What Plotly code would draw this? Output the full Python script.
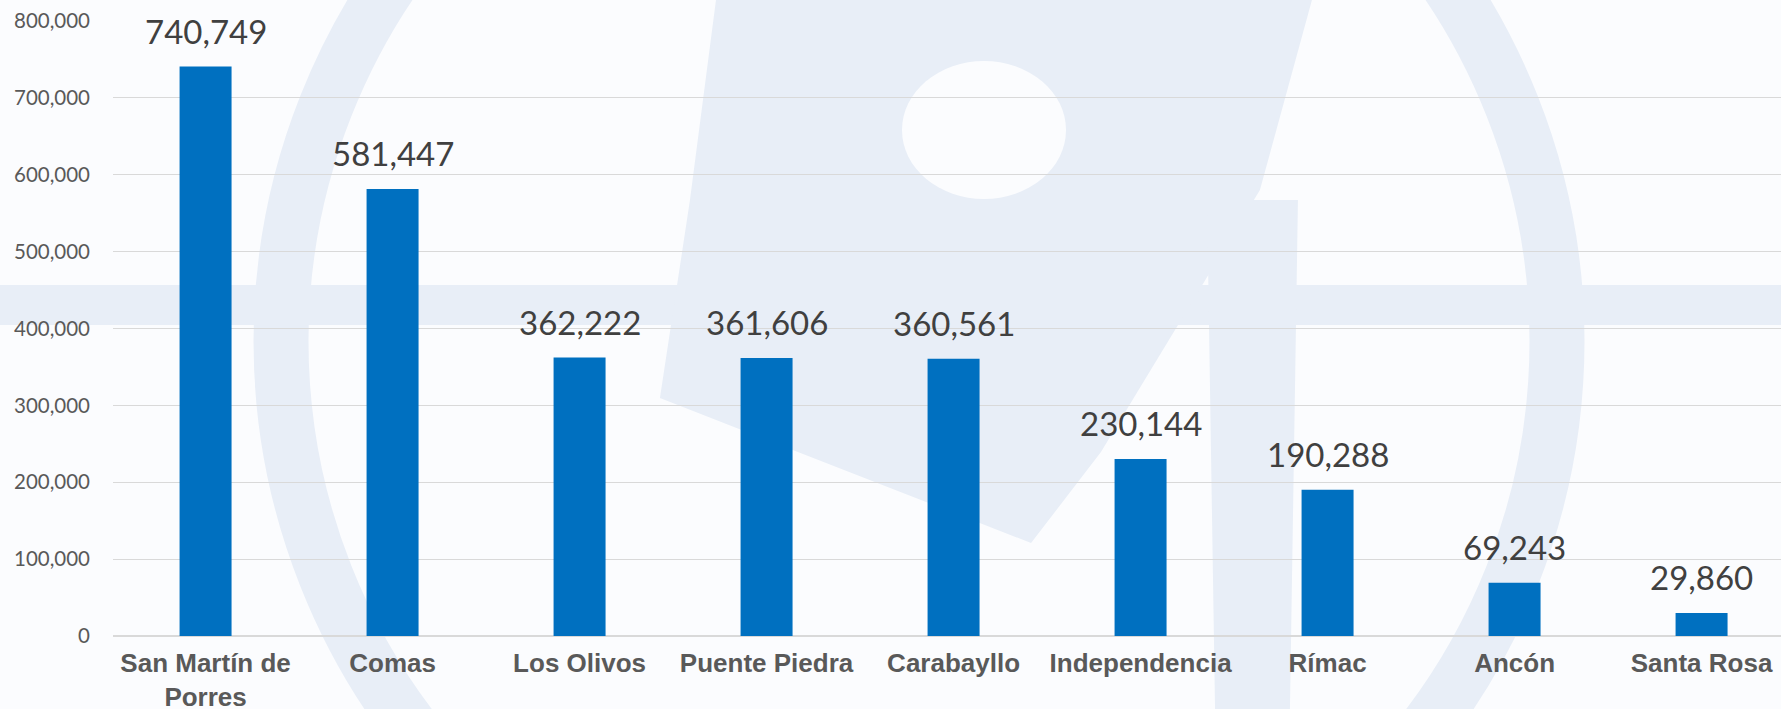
import plotly.graph_objects as go

distritos = ["San Martín de<br>Porres", "Comas", "Los Olivos", "Puente Piedra",
             "Carabayllo", "Independencia", "Rímac", "Ancón", "Santa Rosa"]
poblacion = [740749, 581447, 362222, 361606, 360561, 230144, 190288, 69243, 29860]
y_ticks = [0, 100000, 200000, 300000, 400000, 500000, 600000, 700000, 800000]

W, H = 1781, 709
L, T, PW, PH = 113, 21, 1668, 615
PALE = "#E8EEF7"
BG = "#FBFCFE"


def px(x):
    return (x - L) / PW


def py(y):
    return (T + PH - y) / PH


def poly(points):
    s = "M " + " L ".join(f"{px(a):.4f},{py(b):.4f}" for a, b in points)
    return s + " Z"


fig = go.Figure()

fig.add_trace(go.Bar(
    x=distritos, y=poblacion,
    marker=dict(color="#0070C0", line=dict(width=0)),
    hoverinfo="x+y",
))

# value labels above bars
for d, v in zip(distritos, poblacion):
    fig.add_annotation(x=d, y=v, text=f"{v:,}", showarrow=False,
                       yanchor="bottom", yshift=14,
                       font=dict(family="Lato", size=33, color="#404040"))

# faint watermark behind the chart
shapes = []
cx, cy, r = 919, 341, 638
shapes.append(dict(type="circle", xref="paper", yref="paper", layer="below",
                   x0=px(cx - r), x1=px(cx + r), y0=py(cy + r), y1=py(cy - r),
                   line=dict(color=PALE, width=55), fillcolor="rgba(0,0,0,0)"))
shapes.append(dict(type="rect", xref="paper", yref="paper", layer="below",
                   x0=px(0), x1=px(W), y0=py(325), y1=py(285),
                   line=dict(width=0), fillcolor=PALE))
shapes.append(dict(type="path", xref="paper", yref="paper", layer="below",
                   path=poly([(716, 0), (1312, 0), (1260, 190), (1101, 452),
                              (1031, 543), (660, 398), (690, 200)]),
                   line=dict(width=0), fillcolor=PALE))
shapes.append(dict(type="path", xref="paper", yref="paper", layer="below",
                   path=poly([(1207, 200), (1298, 200), (1290, 709), (1215, 709)]),
                   line=dict(width=0), fillcolor=PALE))
shapes.append(dict(type="circle", xref="paper", yref="paper", layer="below",
                   x0=px(984 - 82), x1=px(984 + 82), y0=py(130 + 69), y1=py(130 - 69),
                   line=dict(width=0), fillcolor=BG))

fig.update_layout(
    width=W, height=H,
    margin=dict(l=L, r=W - L - PW, t=T, b=H - T - PH, autoexpand=False),
    paper_bgcolor=BG,
    plot_bgcolor="rgba(0,0,0,0)",
    showlegend=False,
    bargap=0.722,
    shapes=shapes,
    xaxis=dict(
        range=[-0.495, -0.495 + PW / 187.0], automargin=False,
        showgrid=False, showline=False, ticks="", ticklabelstandoff=9,
        tickfont=dict(family="Liberation Sans", size=26, color="#595959", weight="bold"),
    ),
    yaxis=dict(
        range=[0, 800000], tickvals=y_ticks, tickformat=",", automargin=False,
        showgrid=True, gridcolor="#D9D9D9", gridwidth=1,
        zeroline=True, zerolinecolor="#D9D9D9", zerolinewidth=1.5,
        showline=False, ticks="", ticklabelstandoff=22,
        tickfont=dict(family="Lato", size=20.5, color="#595959"),
    ),
)

# drop the default page margin so the figure sits at the window corner
fig.write_html("out.html", config={"displayModeBar": False},
               post_script="document.body.style.margin='0';document.body.style.overflow='hidden';")
